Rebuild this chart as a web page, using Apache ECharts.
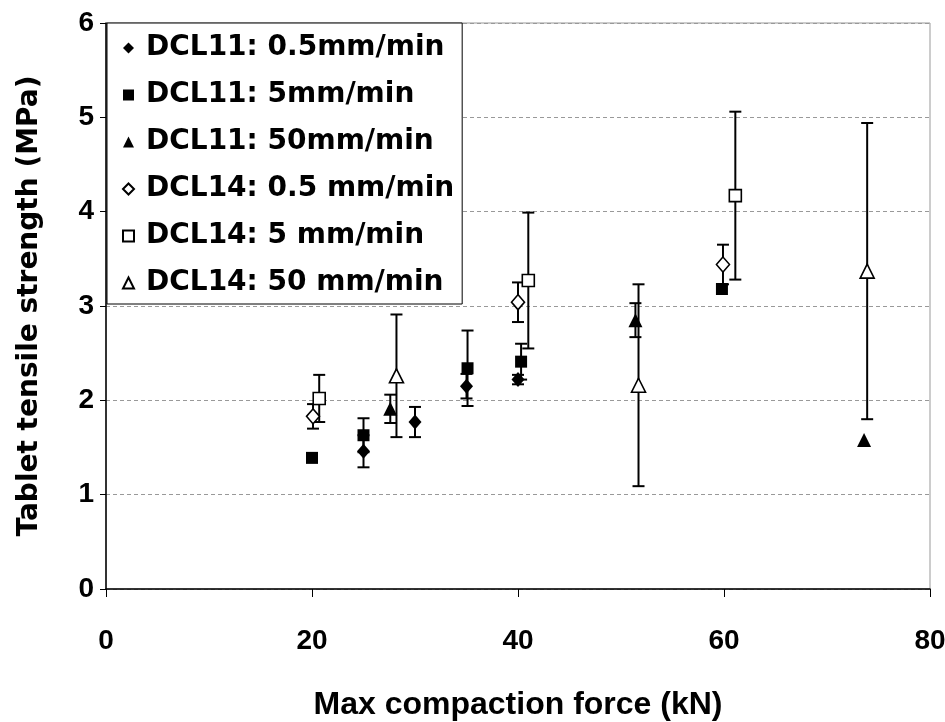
<!DOCTYPE html>
<html>
<head>
<meta charset="utf-8">
<script src="https://cdn.jsdelivr.net/npm/echarts@6/dist/echarts.min.js"></script>
<style>
  html, body { margin: 0; padding: 0; background: #fff; }
  #echart { width: 945px; height: 722px; }
</style>
</head>
<body>
<div id="echart"></div>
<script>
const seriesNames = [
    'DCL11: 0.5mm/min',
    'DCL11: 5mm/min',
    'DCL11: 50mm/min',
    'DCL14: 0.5 mm/min',
    'DCL14: 5 mm/min',
    'DCL14: 50 mm/min'
];

// max compaction force (kN)
const xDcl11Slow = [25.0, 30.0, 35.0, 40.0];
const xDcl11Mid = [20.0, 25.0, 35.1, 40.3, 59.8];
const xDcl11Fast = [27.6, 51.4, 73.6];
const xDcl14Slow = [20.1, 40.0, 59.9];
const xDcl14Mid = [20.7, 41.0, 61.1];
const xDcl14Fast = [28.2, 51.7, 73.9];

// tensile strength (MPa)
const yDcl11Slow = [1.46, 1.77, 2.15, 2.22];
const yDcl11Mid = [1.39, 1.63, 2.34, 2.41, 3.18];
const yDcl11Fast = [1.91, 2.85, 1.58];
const yDcl14Slow = [1.83, 3.04, 3.44];
const yDcl14Mid = [2.02, 3.27, 4.17];
const yDcl14Fast = [2.26, 2.16, 3.37];

// standard deviation (MPa), 0 = no bar shown
const eDcl11Slow = [0.17, 0.16, 0.13, 0.05];
const eDcl11Mid = [0, 0.18, 0.40, 0.19, 0];
const eDcl11Fast = [0.15, 0.18, 0];
const eDcl14Slow = [0.13, 0.21, 0.21];
const eDcl14Mid = [0.25, 0.72, 0.89];
const eDcl14Fast = [0.65, 1.07, 1.57];

const xTicks = [0, 20, 40, 60, 80];
const yTicks = [0, 1, 2, 3, 4, 5, 6];

const groups = [
    { x: xDcl11Slow, y: yDcl11Slow, e: eDcl11Slow, symbol: 'diamond', size: [13, 15], filled: true },
    { x: xDcl11Mid, y: yDcl11Mid, e: eDcl11Mid, symbol: 'rect', size: 12, filled: true },
    { x: xDcl11Fast, y: yDcl11Fast, e: eDcl11Fast, symbol: 'triangle', size: [14, 14], filled: true },
    { x: xDcl14Slow, y: yDcl14Slow, e: eDcl14Slow, symbol: 'diamond', size: [13, 15], filled: false },
    { x: xDcl14Mid, y: yDcl14Mid, e: eDcl14Mid, symbol: 'rect', size: 12, filled: false },
    { x: xDcl14Fast, y: yDcl14Fast, e: eDcl14Fast, symbol: 'triangle', size: [14, 14], filled: false }
];

const chart = echarts.init(document.getElementById('echart'));

// gom tất cả thanh sai số vào một mảng [x, thấp, cao]
const errorData = [];
groups.forEach(g => {
    g.x.forEach((x, i) => {
        if (g.e[i] > 0) errorData.push([x, g.y[i] - g.e[i], g.y[i] + g.e[i]]);
    });
});

function renderErrorBar(params, api) {
    const top = api.coord([api.value(0), api.value(2)]);
    const bottom = api.coord([api.value(0), api.value(1)]);
    const half = 6;
    const style = { stroke: '#000', lineWidth: 2 };
    return {
        type: 'group',
        children: [
            { type: 'line', shape: { x1: top[0], y1: top[1], x2: bottom[0], y2: bottom[1] }, style: style },
            { type: 'line', shape: { x1: top[0] - half, y1: top[1], x2: top[0] + half, y2: top[1] }, style: style },
            { type: 'line', shape: { x1: bottom[0] - half, y1: bottom[1], x2: bottom[0] + half, y2: bottom[1] }, style: style }
        ]
    };
}

const scatterSeries = groups.map((g, k) => ({
    name: seriesNames[k],
    type: 'scatter',
    z: 5,
    symbol: g.symbol,
    symbolSize: g.size,
    data: g.x.map((x, i) => [x, g.y[i]]),
    itemStyle: g.filled
        ? { color: '#000', borderColor: '#000', borderWidth: 0, opacity: 1 }
        : { color: '#fff', borderColor: '#000', borderWidth: 1.6, opacity: 1 }
}));

const boldFont = 'Liberation Sans, Arial, sans-serif';

const option = {
    backgroundColor: '#fff',
    animation: false,
    grid: {
        left: 106, right: 15, top: 23, bottom: 133,
        outerBoundsMode: 'none',
        containLabel: false,
        show: true, borderColor: '#999', borderWidth: 1
    },
    legend: {
        orient: 'vertical',
        left: 107,
        top: 23,
        padding: [10, 8, 6, 15],
        itemGap: 17,
        itemWidth: 11,
        itemHeight: 11,
        backgroundColor: '#fff',
        borderColor: '#000',
        borderWidth: 1,
        borderRadius: 0,
        data: seriesNames,
        textStyle: {
            fontFamily: 'DejaVu Sans',
            fontWeight: 'bold',
            fontSize: 28,
            lineHeight: 30,
            color: '#000',
            padding: [0, 0, 0, 7]
        }
    },
    xAxis: {
        type: 'value',
        min: xTicks[0],
        max: xTicks[xTicks.length - 1],
        interval: 20,
        name: 'Max compaction force (kN)',
        nameLocation: 'middle',
        nameGap: 100,
        nameTextStyle: { fontFamily: boldFont, fontWeight: 'bold', fontSize: 32, color: '#000' },
        axisLine: { lineStyle: { color: '#000', width: 1.5 } },
        axisTick: { show: true, inside: false, length: 8, lineStyle: { color: '#000' } },
        axisLabel: { margin: 38, fontFamily: boldFont, fontWeight: 'bold', fontSize: 28, color: '#000' },
        splitLine: { show: false }
    },
    yAxis: {
        type: 'value',
        min: yTicks[0],
        max: yTicks[yTicks.length - 1],
        interval: 1,
        name: 'Tablet tensile strength (MPa)',
        nameLocation: 'middle',
        nameGap: 62,
        nameTextStyle: { fontFamily: 'DejaVu Sans', fontWeight: 'bold', fontSize: 28, color: '#000' },
        axisLine: { show: true, lineStyle: { color: '#000', width: 1.5 } },
        axisTick: { show: true, inside: false, length: 6, lineStyle: { color: '#000' } },
        axisLabel: { margin: 12, fontFamily: boldFont, fontWeight: 'bold', fontSize: 28, color: '#000' },
        splitLine: { show: true, lineStyle: { color: '#999', width: 1, type: [4, 3] } }
    },
    series: [
        {
            name: 'errorbars',
            type: 'custom',
            z: 3,
            renderItem: renderErrorBar,
            encode: { x: 0, y: [1, 2] },
            data: errorData
        },
        ...scatterSeries
    ]
};

chart.setOption(option);
</script>
</body>
</html>
